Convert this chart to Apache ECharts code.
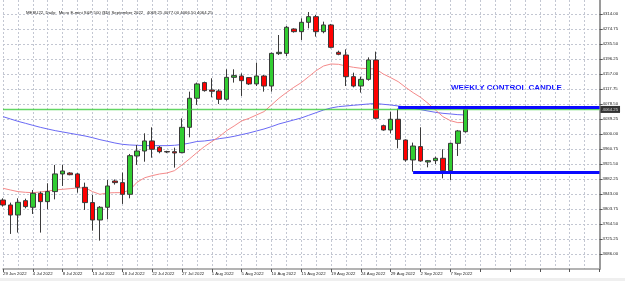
<!DOCTYPE html>
<html>
<head>
<meta charset="utf-8">
<script src="https://cdn.jsdelivr.net/npm/echarts@6/dist/echarts.min.js"></script>
<style>
  html, body { margin: 0; padding: 0; background: #fff; }
  #chart { width: 625px; height: 281px; }
</style>
</head>
<body>
<div id="chart"></div>
<script>
  // daily bars, MESU22 (Sunday bars included, as the terminal shows them)
  const dates = ['29 Jun 2022', '30 Jun 2022', '1 Jul 2022', '3 Jul 2022', '4 Jul 2022', '5 Jul 2022', '6 Jul 2022', '7 Jul 2022',
    '8 Jul 2022', '10 Jul 2022', '11 Jul 2022', '12 Jul 2022', '13 Jul 2022', '14 Jul 2022', '15 Jul 2022', '17 Jul 2022',
    '18 Jul 2022', '19 Jul 2022', '20 Jul 2022', '21 Jul 2022', '22 Jul 2022', '24 Jul 2022', '25 Jul 2022', '26 Jul 2022',
    '27 Jul 2022', '28 Jul 2022', '29 Jul 2022', '31 Jul 2022', '1 Aug 2022', '2 Aug 2022', '3 Aug 2022', '4 Aug 2022',
    '5 Aug 2022', '7 Aug 2022', '8 Aug 2022', '9 Aug 2022', '10 Aug 2022', '11 Aug 2022', '12 Aug 2022', '14 Aug 2022',
    '15 Aug 2022', '16 Aug 2022', '17 Aug 2022', '18 Aug 2022', '19 Aug 2022', '21 Aug 2022', '22 Aug 2022', '23 Aug 2022',
    '24 Aug 2022', '25 Aug 2022', '26 Aug 2022', '28 Aug 2022', '29 Aug 2022', '30 Aug 2022', '31 Aug 2022', '1 Sep 2022',
    '2 Sep 2022', '4 Sep 2022', '5 Sep 2022', '6 Sep 2022', '7 Sep 2022', '8 Sep 2022', '9 Sep 2022'];

  const opens = [3827.25, 3814.25, 3788.00, 3825.50, 3808.25, 3844.75, 3823.00, 3849.25, 3895.50, 3898.00, 3895.50, 3860.50,
    3820.50, 3775.00, 3808.25, 3877.00, 3872.75, 3842.25, 3942.50, 3955.50, 3981.75, 3965.25, 3954.00, 3953.75,
    3951.25, 4017.50, 4093.50, 4134.50, 4115.25, 4112.50, 4090.75, 4148.25, 4151.75, 4147.50, 4131.00, 4151.75,
    4125.50, 4210.25, 4211.00, 4274.75, 4267.75, 4292.25, 4307.00, 4267.75, 4285.25, 4213.75, 4206.75, 4150.00,
    4125.50, 4143.00, 4193.75, 4021.75, 4010.50, 4038.50, 3984.25, 3932.00, 3967.00, 3926.75, 3930.25, 3936.50,
    3904.00, 3975.50, 4006.00];
  const highs = [3831.75, 3820.50, 3831.75, 3830.75, 3853.50, 3849.25, 3871.00, 3919.00, 3919.00, 3900.00, 3898.00, 3872.75,
    3840.50, 3811.50, 3879.75, 3881.00, 3899.00, 3947.75, 3971.25, 4001.75, 4017.50, 3968.50, 3956.00, 3964.25,
    4041.00, 4110.75, 4134.50, 4137.00, 4145.75, 4117.00, 4169.25, 4169.25, 4158.75, 4148.25, 4186.75, 4154.50,
    4213.00, 4259.00, 4282.50, 4276.50, 4302.75, 4319.00, 4311.50, 4294.00, 4288.00, 4218.00, 4221.50, 4160.50,
    4150.00, 4200.50, 4215.50, 4024.50, 4058.50, 4066.25, 3986.00, 3977.50, 4017.50, 3932.00, 3940.75, 3960.00,
    3977.50, 4010.50, 4064.50];
  const lows = [3810.00, 3738.50, 3742.00, 3805.50, 3790.75, 3742.00, 3803.00, 3829.00, 3864.00, 3892.00, 3846.50, 3801.25,
    3747.00, 3721.00, 3776.75, 3867.50, 3817.00, 3831.75, 3919.00, 3927.50, 3938.00, 3949.50, 3950.00, 3912.00,
    3949.50, 3991.25, 4076.00, 4110.75, 4096.00, 4078.50, 4087.25, 4134.50, 4099.50, 4128.25, 4125.50, 4110.75,
    4110.75, 4206.75, 4204.00, 4265.25, 4246.00, 4276.50, 4254.75, 4263.50, 4224.25, 4206.00, 4125.50, 4122.00,
    4108.25, 4139.50, 4038.50, 4008.75, 4001.75, 3962.50, 3927.50, 3901.50, 3927.50, 3912.75, 3921.50, 3884.00,
    3879.75, 3942.50, 4003.50];
  const closes = [3814.25, 3788.00, 3821.25, 3810.00, 3844.75, 3823.00, 3849.25, 3895.50, 3903.25, 3893.50, 3860.50, 3820.50,
    3775.00, 3808.25, 3864.00, 3872.75, 3842.25, 3943.25, 3955.50, 3981.75, 3960.00, 3953.75, 3953.00, 3950.25,
    4017.50, 4093.50, 4131.00, 4113.50, 4111.75, 4090.75, 4148.25, 4152.75, 4139.50, 4131.00, 4151.75, 4125.50,
    4211.00, 4213.75, 4279.25, 4267.75, 4292.25, 4307.00, 4267.75, 4285.25, 4226.75, 4208.50, 4150.00, 4125.50,
    4143.00, 4193.75, 4041.00, 4010.50, 4038.50, 3986.00, 3932.00, 3968.50, 3929.50, 3930.25, 3936.50, 3904.00,
    3975.50, 4008.00, 4064.25];

  // moving averages as drawn on the chart (red = fast, blue = slow)
  const maFast = [3857.9, 3853.5, 3849.2, 3847.4, 3846.5, 3848.3, 3850.9, 3853.5, 3855.3, 3857.0, 3858.7, 3859.6,
    3849.2, 3842.2, 3845.7, 3846.5, 3846.5, 3853.5, 3874.0, 3885.5, 3891.0, 3895.4, 3898.0, 3904.1,
    3918.9, 3934.6, 3951.2, 3966.9, 3980.0, 3993.1, 4008.8, 4021.0, 4034.1, 4041.0, 4049.8, 4058.5,
    4075.9, 4093.4, 4108.2, 4122.1, 4134.4, 4150.1, 4165.8, 4178.0, 4183.2, 4182.3, 4178.0, 4174.5,
    4171.9, 4171.0, 4170.1, 4157.0, 4147.4, 4137.0, 4122.1, 4108.2, 4096.0, 4080.3, 4062.8, 4045.4,
    4034.9, 4029.7, 4030.6];
  const maSlow = [4045.4, 4039.3, 4033.2, 4028.0, 4022.7, 4017.5, 4013.1, 4008.8, 4005.3, 4001.8, 3998.3, 3994.8,
    3990.4, 3985.2, 3980.9, 3976.5, 3973.0, 3971.3, 3970.4, 3969.5, 3969.5, 3969.5, 3969.5, 3970.4,
    3972.6, 3976.0, 3980.4, 3981.7, 3984.3, 3987.8, 3990.4, 3993.9, 3998.3, 4002.7, 4007.9, 4013.1,
    4019.2, 4026.2, 4031.4, 4036.7, 4041.9, 4048.9, 4055.9, 4062.8, 4068.1, 4071.6, 4073.3, 4075.1,
    4076.8, 4078.5, 4079.8, 4077.7, 4075.9, 4073.3, 4070.7, 4067.2, 4063.7, 4060.2, 4056.7, 4054.1,
    4052.4, 4050.6, 4049.8];

  // price scale labels on the right
  const yTicks = [4314.00, 4274.75, 4235.50, 4196.25, 4157.00, 4117.75, 4078.50, 4039.25, 4000.00,
    3960.75, 3921.50, 3882.25, 3843.00, 3803.75, 3764.50, 3725.25, 3686.00];

  const lastPrice = 4064.25;
  const controlHigh = 4070.50;   // weekly control candle high
  const controlLow = 3900.50;    // weekly control candle low
  const controlHighFrom = '30 Aug 2022';
  const controlLowFrom = '1 Sep 2022';

  // empty slots to the right of the last bar (chart shift)
  const emptySlots = 18;
  let xData = dates.slice();
  for (let i = 0; i < emptySlots; i++) xData.push('');
  const lastSlot = xData.length - 1;

  let candles = dates.map(function (d, i) {
    return [opens[i], closes[i], lows[i], highs[i]];
  });

  const gridColor = '#c3c7d2';
  const txtColor = '#222';
  const bidGreen = '#3ccc3c';
  const levelBlue = '#0a0aff';

  let myChart = echarts.init(document.getElementById('chart'));
  myChart.setOption({
    animation: false,
    backgroundColor: '#fff',
    title: {
      text: 'MESU22, Daily:  Micro E-mini S&P 500 ($D) September 2022   4069.25 4077.00 4066.50 4064.25',
      left: 21,
      top: 6,
      textStyle: { fontSize: 4.3, fontWeight: 'normal', color: txtColor, fontFamily: 'Liberation Sans' }
    },
    grid: { left: 3, right: 25.5, top: 0, bottom: 12 },
    xAxis: {
      type: 'category',
      data: xData,
      boundaryGap: false,
      axisLine: { lineStyle: { color: '#9a9a9a', width: 1.5 } },
      axisTick: { interval: 3, length: 3, lineStyle: { color: '#555' } },
      axisLabel: {
        interval: 3, align: 'left', margin: 3, fontSize: 4.3, color: txtColor, fontFamily: 'Liberation Sans'
      },
      splitLine: { show: true, interval: 1, lineStyle: { color: gridColor, type: [2, 2], width: 1 } }
    },
    yAxis: {
      type: 'value',
      position: 'right',
      min: 3646.75,
      max: 4350.6,
      axisLine: { show: true, lineStyle: { color: '#9a9a9a', width: 2 } },
      axisTick: { show: true, customValues: yTicks, length: 3, lineStyle: { color: '#555' } },
      axisLabel: {
        customValues: yTicks, margin: 3, fontSize: 4.3, color: txtColor, fontFamily: 'Liberation Sans',
        formatter: function (v) { return v.toFixed(2); }
      },
      splitLine: { show: true, lineStyle: { color: gridColor, type: [2, 2], width: 1 } }
    },
    series: [
      {
        name: 'MA slow',
        type: 'line',
        data: maSlow,
        showSymbol: false,
        lineStyle: { color: '#6a6af5', width: 1 },
        z: 2
      },
      {
        name: 'MA fast',
        type: 'line',
        data: maFast,
        showSymbol: false,
        lineStyle: { color: '#f58a8a', width: 1 },
        z: 2,
        // bid line and the weekly control candle levels
        markLine: {
          silent: true,
          symbol: 'none',
          animation: false,
          data: [
            {
              yAxis: lastPrice,
              lineStyle: { color: bidGreen, width: 1.3, type: 'solid', opacity: 0.8 },
              label: {
                show: true, position: 'end', distance: 1, formatter: lastPrice.toFixed(2),
                backgroundColor: '#000', color: '#fff', fontSize: 4.3, padding: [1.5, 2],
                fontFamily: 'Liberation Sans'
              }
            },
            [
              { coord: [controlHighFrom, controlHigh], lineStyle: { color: levelBlue, width: 3, type: 'solid', opacity: 1 }, label: { show: false } },
              { coord: [lastSlot, controlHigh] }
            ],
            [
              { coord: [controlLowFrom, controlLow], lineStyle: { color: levelBlue, width: 3, type: 'solid', opacity: 1 }, label: { show: false } },
              { coord: [lastSlot, controlLow] }
            ]
          ]
        }
      },
      {
        name: 'MESU22',
        type: 'candlestick',
        data: candles,
        barWidth: 5,
        clip: false,
        z: 3,
        itemStyle: {
          color: '#32cd32',
          color0: '#ff0000',
          borderColor: '#3a3a3a',
          borderColor0: '#3a3a3a',
          borderWidth: 1
        }
      }
    ],
    graphic: [
      {
        type: 'text',
        left: 451,
        top: 84,
        style: {
          text: 'WEEKLY CONTROL CANDLE',
          fill: '#1414ff',
          font: 'bold 8px "Liberation Sans", Arial, sans-serif'
        }
      },
      {
        type: 'rect',
        left: 0,
        top: 278,
        shape: { width: 625, height: 3 },
        style: { fill: '#efefef' },
        silent: true
      }
    ]
  });
</script>
</body>
</html>
